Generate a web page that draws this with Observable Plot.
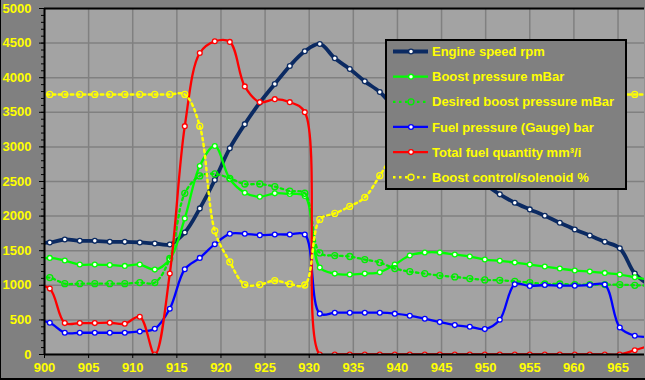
<!DOCTYPE html>
<html><head><meta charset="utf-8">
<script src="https://cdn.jsdelivr.net/npm/d3@7"></script>
<script src="https://cdn.jsdelivr.net/npm/@observablehq/plot@0.6"></script>
<style>
html,body{margin:0;padding:0;background:#808080;}
#wrap{position:relative;width:645px;height:380px;overflow:hidden;background:#808080;}
#wrap svg{display:block;}
#legend{position:absolute;left:385px;top:39px;}
#border{position:absolute;left:0;top:0;width:645px;height:380px;box-sizing:border-box;border-left:1px solid #000;border-bottom:2px solid #000;pointer-events:none;}
</style></head><body><div id="wrap"></div>
<script>
// sample times (x axis)
const time = [898.9, 900.6, 902.3, 904.0, 905.7, 907.4, 909.1, 910.8, 912.5, 914.2, 915.9, 917.6, 919.3, 921.0, 922.7, 924.4, 926.1, 927.8, 929.5, 931.2, 932.9, 934.6, 936.3, 938.0, 939.7, 941.4, 943.1, 944.8, 946.5, 948.2, 949.9, 951.6, 953.3, 955.0, 956.7, 958.4, 960.1, 961.8, 963.5, 965.2, 966.9, 968.6];
const engineSpeed = [1610, 1619, 1662, 1642, 1642, 1628, 1628, 1619, 1604, 1590, 1764, 2111, 2522, 2981, 3329, 3640, 3909, 4170, 4382, 4488, 4280, 4126, 3947, 3793, 3560, 3350, 3150, 2960, 2790, 2620, 2460, 2314, 2193, 2097, 2004, 1903, 1807, 1720, 1628, 1536, 1169, 1000];
const boostPressure = [1370, 1396, 1358, 1300, 1300, 1294, 1280, 1300, 1227, 1377, 1967, 2725, 3014, 2536, 2338, 2280, 2329, 2319, 2290, 1256, 1169, 1155, 1169, 1188, 1300, 1430, 1474, 1474, 1445, 1416, 1372, 1353, 1329, 1300, 1271, 1242, 1213, 1198, 1179, 1155, 1116, 1080];
const desiredBoost = [1110, 1111, 1024, 1024, 1024, 1024, 1024, 1039, 1039, 1387, 2329, 2580, 2609, 2546, 2464, 2464, 2425, 2362, 2330, 1468, 1430, 1416, 1372, 1329, 1242, 1198, 1169, 1140, 1121, 1097, 1077, 1072, 1058, 1039, 1019, 1019, 1010, 1010, 1010, 1010, 1000, 995];
const fuelPressure = [500, 459, 314, 314, 314, 314, 314, 333, 372, 662, 1232, 1396, 1594, 1744, 1744, 1725, 1734, 1734, 1734, 590, 604, 604, 604, 604, 590, 561, 517, 468, 425, 401, 367, 503, 1014, 990, 1004, 995, 995, 1004, 1010, 391, 271, 255];
const fuelQuantity = [1000, 952, 454, 454, 454, 459, 444, 546, 0, 1169, 3300, 4357, 4526, 4517, 3874, 3647, 3690, 3647, 3502, 0, 0, 0, 0, 0, 0, 0, 0, 0, 0, 0, 0, 0, 0, 0, 0, 0, 0, 0, 0, 0, 62, 130];
const solenoid = [3758, 3758, 3758, 3758, 3758, 3758, 3758, 3758, 3758, 3758, 3758, 3300, 1787, 1338, 1010, 1010, 1068, 1019, 1004, 1952, 2039, 2140, 2271, 2584, 2950, 3350, 3650, 3758, 3758, 3758, 3758, 3758, 3758, 3758, 3758, 3758, 3758, 3758, 3758, 3758, 3758, 3758];

const seriesNames = ["Engine speed rpm", "Boost pressure mBar", "Desired boost pressure mBar", "Fuel pressure (Gauge) bar", "Total fuel quantity mm³/i", "Boost control/solenoid %"];
const xTicks = [900, 905, 910, 915, 920, 925, 930, 935, 940, 945, 950, 955, 960, 965];
const yTicks = [0, 500, 1000, 1500, 2000, 2500, 3000, 3500, 4000, 4500, 5000];

const series = [
  {name: seriesNames[0], values: engineSpeed, color: "#0b2a62", width: 3.8, dash: null, solid: true},
  {name: seriesNames[1], values: boostPressure, color: "#00ff00", width: 2.3, dash: null, solid: true},
  {name: seriesNames[2], values: desiredBoost, color: "#00ee00", width: 2.3, dash: "2.5,3.5", solid: false},
  {name: seriesNames[3], values: fuelPressure, color: "#0000ff", width: 2.3, dash: null, solid: true},
  {name: seriesNames[4], values: fuelQuantity, color: "#ff0000", width: 2.3, dash: null, solid: true},
  {name: seriesNames[5], values: solenoid, color: "#ffff00", width: 2.5, dash: "2.5,3.5", solid: false}
];

const marks = [
  Plot.frame({fill: "#a3a3a3", stroke: null}),
  Plot.gridX({ticks: xTicks, stroke: "#808080", strokeOpacity: 1, strokeWidth: 1.5}),
  Plot.gridY({ticks: yTicks, stroke: "#808080", strokeOpacity: 1, strokeWidth: 1.5})
];
for (const s of series) {
  const pts = time.map((t, i) => ({t, v: s.values[i]}));
  marks.push(Plot.line(pts, {x: "t", y: "v", stroke: s.color, strokeWidth: s.width, strokeDasharray: s.dash, curve: "catmull-rom", clip: true}));
  marks.push(Plot.dot(pts, {x: "t", y: "v", r: s.solid ? 2.4 : 3, fill: s.solid ? "white" : "none", stroke: s.color, strokeWidth: 1.3, clip: true}));
}
marks.push(
  Plot.ruleY([5000], {stroke: "black", strokeWidth: 2}),
  Plot.ruleY([0], {stroke: "black", strokeWidth: 2}),
  Plot.ruleX([900], {stroke: "black", strokeWidth: 2}),
  Plot.axisY({ticks: d3.range(0, 5001, 100), tickSize: 3, tickFormat: () => "", stroke: "black", label: null}),
  Plot.axisY({ticks: yTicks, tickSize: 5, tickPadding: 8, tickFormat: d => String(d), stroke: "black", fill: "#ffff00", fontSize: 13, fontWeight: "bold", label: null}),
  Plot.axisX({ticks: xTicks, tickSize: 4, tickPadding: 4, tickFormat: d => String(d), stroke: "black", fill: "#ffff00", fontSize: 13, fontWeight: "bold", label: null})
);

const chart = Plot.plot({
  width: 645, height: 380,
  marginLeft: 44, marginRight: 1, marginTop: 8, marginBottom: 26,
  x: {domain: [900, 968]},
  y: {domain: [0, 5000]},
  style: {background: "#808080", color: "black", fontFamily: "'Liberation Sans', Arial, sans-serif", fontSize: "13px", fontWeight: "bold"},
  marks
});
const wrap = document.getElementById("wrap");
wrap.appendChild(chart);

// legend overlay
const lw = 242, lh = 151;
const leg = d3.select(wrap).append("svg").attr("id", "legend").attr("width", lw).attr("height", lh);
leg.append("rect").attr("x", 1).attr("y", 1).attr("width", lw - 2).attr("height", lh - 2).attr("fill", "#808080").attr("stroke", "black").attr("stroke-width", 2);
series.forEach((s, i) => {
  const y = 12.5 + i * 25.15;
  leg.append("line").attr("x1", 8).attr("x2", 43).attr("y1", y).attr("y2", y)
    .attr("stroke", s.color).attr("stroke-width", s.width).attr("stroke-dasharray", s.dash);
  leg.append("circle").attr("cx", 26).attr("cy", y).attr("r", s.solid ? 2.4 : 3)
    .attr("fill", s.solid ? "white" : "#808080").attr("stroke", s.color).attr("stroke-width", 1.3);
  leg.append("text").attr("x", 47).attr("y", y).attr("dy", "0.36em").text(s.name)
    .attr("fill", "#ffff00").attr("font-family", "'Liberation Sans', Arial, sans-serif").attr("font-size", 13).attr("font-weight", "bold");
});
d3.select(wrap).append("div").attr("id", "border");
</script>
</body></html>
